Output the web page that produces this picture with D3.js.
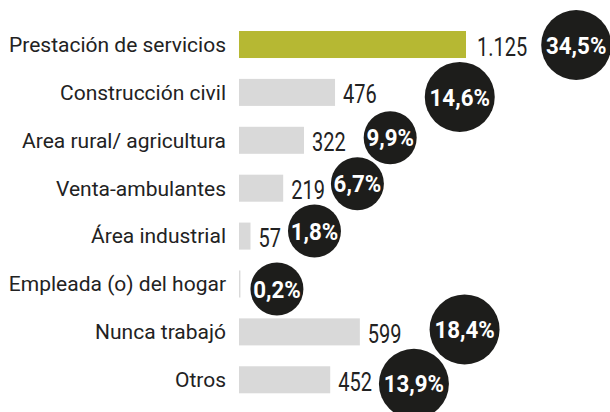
<!DOCTYPE html>
<html>
<head>
<meta charset="utf-8">
<script src="https://cdn.jsdelivr.net/npm/d3@7"></script>
<style>
  html, body { margin: 0; padding: 0; background: #fff; }
  svg { display: block; }
  .cat { font-family: Roboto, "Liberation Sans", sans-serif; font-size: 21px; fill: #222; }
  .num { font-family: Roboto, "Liberation Sans", sans-serif; font-size: 25px; fill: #222; }
  .pct { font-family: Roboto, "Liberation Sans", sans-serif; font-size: 24px; font-weight: bold; fill: #fff; }
</style>
</head>
<body>
<svg></svg>
<script>
'use strict';

// data
var categories = [
  'Prestación de servicios',
  'Construcción civil',
  'Area rural/ agricultura',
  'Venta-ambulantes',
  'Área industrial',
  'Empleada (o) del hogar',
  'Nunca trabajó',
  'Otros'
];
var counts = [1125, 476, 322, 219, 57, 7, 599, 452];
var countLabels = ['1.125', '476', '322', '219', '57', null, '599', '452'];
var shares = [34.5, 14.6, 9.9, 6.7, 1.8, 0.2, 18.4, 13.9];

// hand placed bubbles in the original, nudges relative to the number label
var bubbleGap = [14, 48, 18, 6, 7, 10, 28, 7];
var bubbleDy = [0.5, 4.5, -2.5, -4.5, -5, 5, -2.5, 4];

var canvasWidth = 610,
  canvasHeight = 412,
  barLeft = 239,
  numSquash = 0.8,   // condensed look for the figures
  pctSquash = 0.93;

var svg = d3.select('svg')
  .attr('width', canvasWidth)
  .attr('height', canvasHeight);

var xScale = d3.scaleLinear()
  .domain([0, 1125])
  .range([barLeft, 466]);

var yScale = d3.scaleBand()
  .domain(categories)
  .range([31, 393.3])
  .paddingInner(0.436)
  .paddingOuter(0);

var rScale = d3.scaleThreshold()
  .domain([10])
  .range([26.5, 35]);

var rows = categories.map(function(c, i) {
  return { name: c, value: counts[i], label: countLabels[i], share: shares[i], i: i };
});

function mid(d) { return yScale(d.name) + yScale.bandwidth() / 2; }
function numX(d) { return xScale(d.value) + (d.i === 0 ? 11 : 8); }

// category labels
svg.selectAll('text.cat')
  .data(rows)
  .enter().append('text')
    .attr('class', 'cat')
    .attr('x', 226)
    .attr('y', function(d) { return mid(d); })
    .attr('dy', '0.35em')
    .style('text-anchor', 'end')
    .text(function(d) { return d.name; });

// bars
svg.selectAll('rect.bar')
  .data(rows)
  .enter().append('rect')
    .attr('class', 'bar')
    .attr('x', xScale(0))
    .attr('y', function(d) { return yScale(d.name); })
    .attr('width', function(d) { return xScale(d.value) - xScale(0); })
    .attr('height', yScale.bandwidth())
    .style('fill', function(d) { return d.i === 0 ? '#b6b833' : '#d9d9d9'; });

// number labels
var nums = svg.selectAll('text.num')
  .data(rows)
  .enter().append('text')
    .attr('class', 'num')
    .attr('transform', function(d) {
      return 'translate(' + numX(d) + ',' + (mid(d) + 11) + ') scale(' + numSquash + ',1)';
    })
    .text(function(d) { return d.label || ''; });

// where each number ends, so the bubble can sit after it
var ends = [];
nums.each(function(d) {
  ends[d.i] = d.label ? numX(d) + this.getComputedTextLength() * numSquash : xScale(d.value);
});

var bubbles = svg.selectAll('g.bubble')
  .data(rows)
  .enter().append('g')
    .attr('class', 'bubble')
    .attr('transform', function(d) {
      var r = rScale(d.share);
      var cx = ends[d.i] + bubbleGap[d.i] + r;
      var cy = mid(d) + bubbleDy[d.i];
      return 'translate(' + cx + ',' + cy + ')';
    });

bubbles.append('circle')
  .attr('r', function(d) { return rScale(d.share); })
  .style('fill', '#1d1d1b');

bubbles.append('text')
  .attr('class', 'pct')
  .attr('transform', 'scale(' + pctSquash + ',1)')
  .attr('dy', '0.36em')
  .style('text-anchor', 'middle')
  .text(function(d) { return d3.format('.1f')(d.share).replace('.', ',') + '%'; });
</script>
</body>
</html>
